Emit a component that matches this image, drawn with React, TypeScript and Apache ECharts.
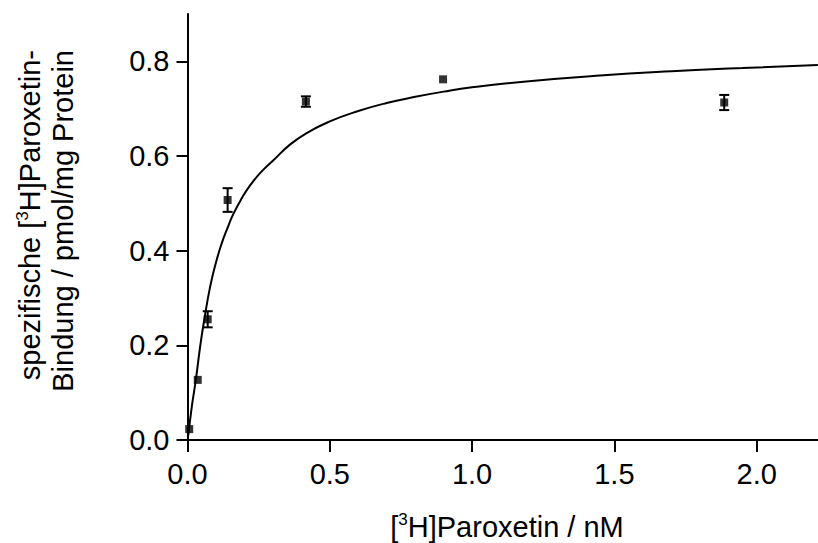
import React, { useEffect, useRef } from "react";
import * as echarts from "echarts";

// Measured points (x in nM, specific binding in pmol/mg protein)
const pointX = [0.006, 0.036, 0.071, 0.141, 0.416, 0.898, 1.886];
const pointY = [0.023, 0.127, 0.255, 0.507, 0.715, 0.762, 0.713];
// error bars that are visible beyond the marker (0 = hidden by the marker)
const pointErr = [0, 0, 0.017, 0.025, 0.011, 0, 0.016];

// Fitted curve
const curveX = [0.003, 0.015, 0.03, 0.045, 0.06, 0.08, 0.1, 0.12, 0.14, 0.16, 0.19, 0.22, 0.26, 0.3, 0.36, 0.42, 0.5, 0.6, 0.7, 0.8, 0.9, 1.0, 1.2, 1.45, 1.7, 1.95, 2.215];
const curveY = [0.01, 0.07, 0.13, 0.2, 0.258, 0.325, 0.375, 0.415, 0.447, 0.476, 0.51, 0.538, 0.567, 0.59, 0.624, 0.649, 0.673, 0.695, 0.712, 0.725, 0.736, 0.745, 0.758, 0.77, 0.779, 0.786, 0.792];

const xTicks = [0, 0.5, 1.0, 1.5, 2.0];
const yTicks = [0, 0.2, 0.4, 0.6, 0.8];

const FONT = "Liberation Sans, Arial, Helvetica, sans-serif";
const FS = 29;
const SUP = { fontSize: 17, lineHeight: 17, fontFamily: FONT, fill: "#000", verticalAlign: "top" };

export default function App() {
  const ref = useRef<HTMLDivElement>(null);
  useEffect(() => {
    if (!ref.current) return;
    const chart = echarts.init(ref.current, null, { renderer: "svg" });
    const scatterData = pointX.map((x, i) => [x, pointY[i]]);
    const errData = pointX.map((x, i) => [x, pointY[i], pointY[i] - pointErr[i], pointY[i] + pointErr[i]]);
    const curveData = curveX.map((x, i) => [x, curveY[i]]);
    chart.setOption({
      animation: false,
      backgroundColor: "#fff",
      grid: { left: 187.5, right: 0, top: 14, bottom: 103, containLabel: false },
      xAxis: {
        type: "value",
        min: 0,
        max: 2.2155,
        splitLine: { show: false },
        axisLine: { show: true, onZero: false, lineStyle: { color: "#000", width: 2 } },
        axisTick: { show: true, length: 12, lineStyle: { color: "#000", width: 2 }, customValues: xTicks },
        axisLabel: {
          color: "#000",
          fontSize: FS,
          fontFamily: FONT,
          margin: 19,
          customValues: xTicks,
          formatter: (v: number) => v.toFixed(1),
        },
      },
      yAxis: {
        type: "value",
        min: 0,
        max: 0.9,
        splitLine: { show: false },
        axisLine: { show: true, onZero: false, lineStyle: { color: "#000", width: 2 } },
        axisTick: { show: true, length: 11, lineStyle: { color: "#000", width: 2 }, customValues: yTicks },
        axisLabel: {
          color: "#000",
          fontSize: FS,
          fontFamily: FONT,
          margin: 18,
          customValues: yTicks,
          formatter: (v: number) => v.toFixed(1),
        },
      },
      series: [
        {
          type: "line",
          data: curveData,
          smooth: 0.5,
          showSymbol: false,
          symbol: "none",
          lineStyle: { color: "#000", width: 2 },
          clip: false,
          z: 2,
        },
        {
          type: "custom",
          data: errData,
          encode: { x: 0, y: [1, 2, 3] },
          clip: false,
          z: 3,
          renderItem: (params: any, api: any) => {
            const x = api.value(0);
            const lo = api.coord([x, api.value(2)]);
            const hi = api.coord([x, api.value(3)]);
            if (Math.abs(hi[1] - lo[1]) < 1) return { type: "group", children: [] };
            const half = 5;
            const st = { stroke: "#000", lineWidth: 2 };
            return {
              type: "group",
              children: [
                { type: "line", shape: { x1: lo[0], y1: lo[1], x2: hi[0], y2: hi[1] }, style: st },
                { type: "line", shape: { x1: lo[0] - half, y1: lo[1], x2: lo[0] + half, y2: lo[1] }, style: st },
                { type: "line", shape: { x1: hi[0] - half, y1: hi[1], x2: hi[0] + half, y2: hi[1] }, style: st },
              ],
            };
          },
        },
        {
          type: "scatter",
          data: scatterData,
          symbol: "rect",
          symbolSize: 8,
          itemStyle: { color: "#000" },
          clip: false,
          z: 4,
        },
      ],
      graphic: [
        {
          type: "text",
          x: 507,
          y: 527,
          style: {
            text: "[{sup|3}H]Paroxetin / nM",
            fill: "#000",
            fontSize: FS,
            lineHeight: 32,
            fontFamily: FONT,
            align: "center",
            verticalAlign: "middle",
            rich: { sup: SUP },
          },
        },
        {
          type: "text",
          x: 30,
          y: 50,
          rotation: Math.PI / 2,
          style: {
            text: "spezifische [{sup|3}H]Paroxetin-",
            fill: "#000",
            fontSize: FS,
            lineHeight: 32,
            fontFamily: FONT,
            align: "right",
            verticalAlign: "middle",
            rich: { sup: SUP },
          },
        },
        {
          type: "text",
          x: 63,
          y: 50,
          rotation: Math.PI / 2,
          style: {
            text: "Bindung / pmol/mg Protein",
            fill: "#000",
            fontSize: FS,
            lineHeight: 32,
            fontFamily: FONT,
            align: "right",
            verticalAlign: "middle",
          },
        },
      ],
    });
    return () => chart.dispose();
  }, []);
  return (
    <div
      ref={ref}
      style={{ position: "fixed", left: 0, top: 0, width: 818, height: 543, background: "#fff" }}
    />
  );
}
